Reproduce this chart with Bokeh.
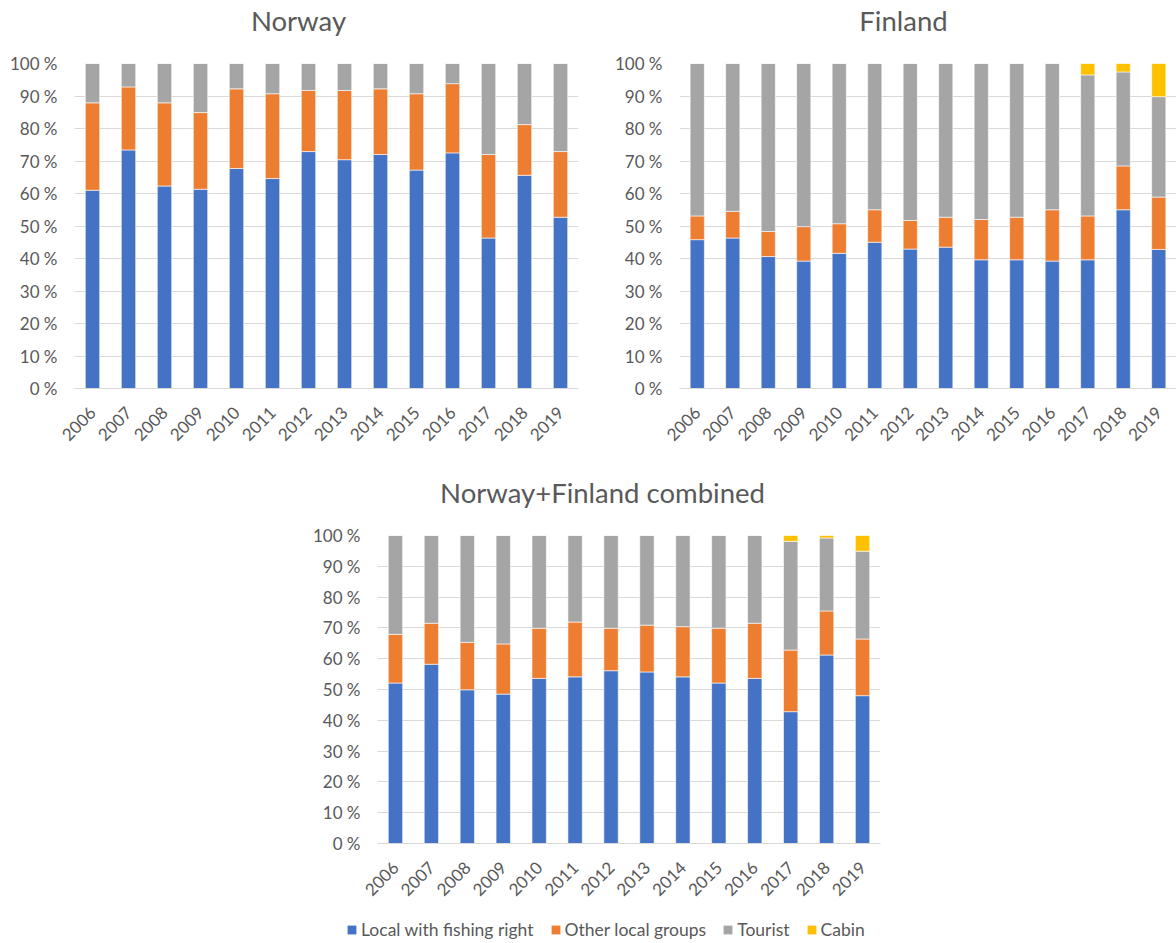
from bokeh.plotting import figure
from bokeh.models import (Range1d, FactorRange, FixedTicker, PrintfTickFormatter,
                          Label, Legend, LegendItem, Spacer)
from bokeh.layouts import row, column
from bokeh.embed import file_html
from bokeh.resources import INLINE
import math

years = ["2006", "2007", "2008", "2009", "2010", "2011", "2012",
         "2013", "2014", "2015", "2016", "2017", "2018", "2019"]
series = ["Local with fishing right", "Other local groups", "Tourist", "Cabin"]
colors = ["#4472C4", "#ED7D31", "#A5A5A5", "#FFC000"]

norway_local = [61.0, 73.4, 62.3, 61.3, 67.7, 64.6, 72.9, 70.4, 72.0, 67.2, 72.5, 46.3, 65.6, 52.7]
norway_other = [26.9, 19.4, 25.6, 23.6, 24.5, 26.1, 18.8, 21.3, 20.2, 23.5, 21.3, 25.7, 15.6, 20.2]
norway_tourist = [12.1, 7.2, 12.1, 15.1, 7.8, 9.3, 8.3, 8.3, 7.8, 9.3, 6.2, 28.0, 18.8, 27.1]
norway_cabin = [0, 0, 0, 0, 0, 0, 0, 0, 0, 0, 0, 0, 0, 0]

finland_local = [45.8, 46.3, 40.6, 39.2, 41.6, 45.0, 42.9, 43.5, 39.6, 39.6, 39.2, 39.6, 55.0, 42.8]
finland_other = [7.3, 8.2, 7.7, 10.6, 9.1, 10.0, 8.8, 9.2, 12.4, 13.1, 15.8, 13.5, 13.5, 16.1]
finland_tourist = [46.9, 45.5, 51.7, 50.2, 49.3, 45.0, 48.3, 47.3, 48.0, 47.3, 45.0, 43.4, 28.9, 30.9]
finland_cabin = [0, 0, 0, 0, 0, 0, 0, 0, 0, 0, 0, 3.5, 2.6, 10.2]

combined_local = [52.1, 58.2, 49.9, 48.5, 53.6, 54.1, 56.1, 55.7, 54.1, 52.1, 53.6, 42.8, 61.2, 48.0]
combined_other = [15.8, 13.3, 15.4, 16.3, 16.3, 17.8, 13.8, 15.2, 16.3, 17.8, 17.9, 20.0, 14.3, 18.4]
combined_tourist = [32.1, 28.5, 34.7, 35.2, 30.1, 28.1, 30.1, 29.1, 29.6, 30.1, 28.5, 35.3, 23.7, 28.5]
combined_cabin = [0, 0, 0, 0, 0, 0, 0, 0, 0, 0, 0, 1.9, 0.8, 5.1]

y_ticks = [0, 10, 20, 30, 40, 50, 60, 70, 80, 90, 100]
titles = ["Norway", "Finland", "Norway+Finland combined"]

FONT = "Lato"
TXT = "#595959"
GRID = "#D9D9D9"


def make_chart(local, other, tourist, cabin, width, height, bl, br, bt, bb):
    p = figure(width=width, height=height, x_range=FactorRange(*years),
               y_range=Range1d(0, 100), output_backend="svg",
               toolbar_location=None, min_border_left=bl, min_border_right=br,
               min_border_top=bt, min_border_bottom=bb)
    p.outline_line_color = None
    data = {"year": years, "a": local, "b": other, "c": tourist, "d": cabin}
    p.vbar_stack(["a", "b", "c", "d"], x="year", width=0.4, source=data,
                 color=colors, line_color="white", line_width=0.6)
    p.xgrid.grid_line_color = None
    p.ygrid.grid_line_color = GRID
    p.ygrid.grid_line_width = 1
    p.ygrid.ticker = FixedTicker(ticks=y_ticks)
    p.yaxis.ticker = FixedTicker(ticks=y_ticks)
    p.yaxis.formatter = PrintfTickFormatter(format="%d %%")
    p.yaxis.axis_line_color = None
    p.yaxis.major_tick_line_color = None
    p.yaxis.major_tick_out = 0
    p.yaxis.minor_tick_line_color = None
    p.yaxis.major_label_standoff = 17
    p.xaxis.axis_line_color = GRID
    p.xaxis.major_tick_line_color = None
    p.xaxis.minor_tick_line_color = None
    p.xaxis.major_label_orientation = math.pi / 4
    p.xaxis.major_label_standoff = 15
    for ax in (p.xaxis, p.yaxis):
        ax.major_label_text_font = FONT
        ax.major_label_text_font_size = "17px"
        ax.major_label_text_color = TXT
    return p


def make_strip(height, labels):
    s = figure(width=1176, height=height, x_range=Range1d(0, 1), y_range=Range1d(0, 1),
               output_backend="svg", toolbar_location=None,
               x_axis_location=None, y_axis_location=None,
               min_border_left=0, min_border_right=0, min_border_top=0,
               min_border_bottom=0)
    s.outline_line_color = None
    s.grid.visible = False
    for text, x, y in labels:
        s.add_layout(Label(x=x, y=y, x_units="screen", y_units="screen", text=text,
                           text_align="center", text_baseline="middle",
                           text_font=FONT, text_font_size="27.5px",
                           text_color=TXT))
    return s


strip1 = make_strip(40, [(titles[0], 298, 20), (titles[1], 903, 20)])
nor = make_chart(norway_local, norway_other, norway_tourist, norway_cabin,
                 600, 415, 74, 22, 23, 67)
fin = make_chart(finland_local, finland_other, finland_tourist, finland_cabin,
                 576, 415, 79, 0, 23, 67)
strip2 = make_strip(60, [(titles[2], 602, 23)])
comb = make_chart(combined_local, combined_other, combined_tourist, combined_cabin,
                  600, 395, 77, 20, 20, 67)

leg = figure(width=1176, height=30, x_range=Range1d(0, 1), y_range=Range1d(0, 1),
             output_backend="svg", toolbar_location=None,
             x_axis_location=None, y_axis_location=None,
             min_border_left=0, min_border_right=0, min_border_top=0, min_border_bottom=0)
leg.outline_line_color = None
leg.grid.visible = False
items = []
for name, c in zip(series, colors):
    r = leg.rect(x=[-10], y=[-10], width=1, height=1, fill_color=c, line_color=None)
    items.append(LegendItem(label=name, renderers=[r]))
legend = Legend(items=items, orientation="horizontal", location=(346, 0),
                glyph_width=11, glyph_height=11, label_standoff=4, spacing=16,
                padding=0, margin=0, border_line_color=None,
                background_fill_alpha=0, label_text_font=FONT,
                label_text_font_size="17.5px", label_text_color=TXT)
leg.add_layout(legend)

layout = column(strip1, row(nor, fin), strip2,
                row(Spacer(width=300, height=395), comb), leg)

open("out.html", "w").write(file_html(layout, INLINE))
